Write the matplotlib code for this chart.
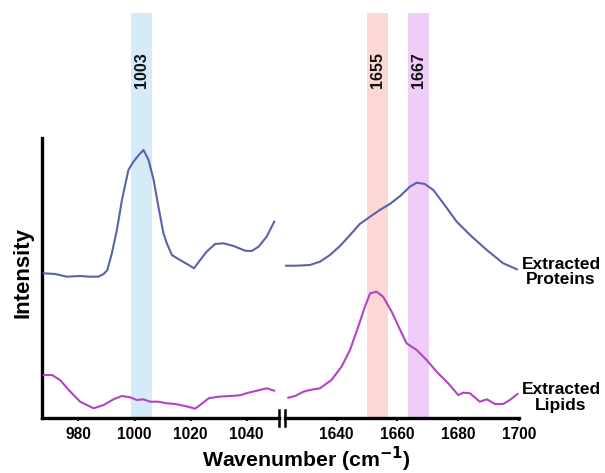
import numpy as np
import matplotlib
matplotlib.use("Agg")
import matplotlib.pyplot as plt

plt.rcParams['font.family'] = ['Liberation Sans', 'DejaVu Sans']

# left segment (phenylalanine region)
wn_prot_left = [967.6, 971.7, 975.9, 980.6, 984.1, 987.1, 989.0, 990.3, 991.9, 993.7,
                995.5, 997.8, 999.6, 1001.5, 1003.2, 1005.0, 1006.8, 1008.5, 1010.3, 1011.5,
                1013.3, 1016.2, 1018.7, 1021.2, 1023.4, 1025.7, 1028.7, 1031.7, 1035.3, 1039.4,
                1041.8, 1044.2, 1047.1, 1049.8]
int_prot_left = [143.7, 143.0, 140.3, 141.0, 140.3, 140.3, 143.0, 147.0, 163.7, 187.0,
                 217.0, 247.0, 255.3, 262.0, 267.0, 257.0, 237.0, 210.3, 183.7, 173.7,
                 162.0, 157.0, 153.0, 148.7, 157.0, 165.3, 173.0, 173.7, 171.0, 166.3,
                 166.0, 170.3, 180.3, 195.3]

wn_lip_left = [967.6, 970.6, 973.4, 977.1, 980.6, 985.4, 989.0, 992.5, 995.5, 998.5,
               1000.8, 1003.2, 1005.5, 1008.5, 1011.5, 1014.5, 1018.0, 1021.6, 1023.4, 1026.4,
               1029.9, 1034.1, 1037.6, 1040.6, 1043.6, 1047.1, 1049.8]
int_lip_left = [42.0, 42.0, 37.0, 25.3, 15.3, 8.7, 12.0, 17.7, 21.0, 19.7,
                17.0, 17.7, 15.3, 15.3, 13.7, 13.0, 11.0, 8.3, 12.0, 18.7,
                20.3, 21.0, 21.7, 24.3, 26.3, 28.7, 26.3]

# right segment (amide I region)
wn_prot_right = [1623.3, 1626.8, 1631.2, 1634.5, 1637.8, 1641.1, 1644.4, 1647.6, 1651.0, 1654.2,
                 1657.5, 1660.9, 1664.1, 1666.3, 1669.0, 1671.8, 1675.1, 1679.5, 1683.9, 1689.4,
                 1694.8, 1699.3]
int_prot_right = [151.3, 151.3, 152.0, 155.3, 162.0, 171.0, 182.0, 193.0, 200.3, 207.0,
                  213.0, 221.0, 230.3, 234.3, 233.0, 227.0, 213.7, 195.3, 182.0, 167.0,
                  153.7, 147.7]

wn_lip_right = [1624.1, 1626.3, 1629.1, 1631.2, 1634.5, 1638.3, 1641.6, 1644.4, 1647.1, 1649.3,
                1651.0, 1653.1, 1655.3, 1658.1, 1660.9, 1663.0, 1666.3, 1669.6, 1672.9, 1676.7,
                1680.0, 1681.7, 1683.9, 1687.1, 1689.4, 1692.1, 1694.8, 1697.0, 1699.5]
int_lip_right = [19.3, 21.0, 25.3, 27.0, 28.7, 37.0, 50.3, 67.0, 90.3, 110.3,
                 123.7, 125.3, 120.3, 105.3, 87.0, 73.7, 67.0, 57.0, 45.3, 33.7,
                 22.0, 24.3, 23.7, 15.3, 17.7, 13.0, 13.0, 17.0, 23.0]

band_labels = ['1003', '1655', '1667']
band_ranges = [(998.7, 1006.1), (1650.0, 1656.8), (1663.5, 1670.4)]
band_colors = ['#d5ebfa', '#fbd8d4', '#efcdf8']

left_ticks = [980, 1000, 1020, 1040]
right_ticks = [1640, 1660, 1680, 1700]

prot_color = '#5a62ac'
lip_color = '#b243c4'

W, H = 605, 473
fig = plt.figure(figsize=(W / 100, H / 100), dpi=100)
bot = (H - 418) / H
hgt = (418 - 13) / H
axL = fig.add_axes([42 / W, bot, (279 - 42) / W, hgt])
axR = fig.add_axes([285 / W, bot, (519 - 285) / W, hgt])

axL.set_xlim(967.0, 1051.5)
axR.set_xlim(1623.0, 1700)
for ax in (axL, axR):
    ax.set_ylim(-1, 404)
    ax.patch.set_alpha(0)
    ax.set_yticks([])
    for s in ['top', 'right', 'left']:
        ax.spines[s].set_visible(False)
    ax.spines['bottom'].set_linewidth(2.4)
    ax.tick_params(axis='x', direction='out', length=2.5, width=1.5, pad=4)

axL.spines['left'].set_visible(True)
axL.spines['left'].set_linewidth(2.4)
axL.spines['left'].set_bounds(-1, 279)

axL.set_xticks(left_ticks)
axR.set_xticks(right_ticks)
axL.set_xticklabels([str(t) for t in left_ticks], fontweight='bold', fontsize=11.2)
axR.set_xticklabels([str(t) for t in right_ticks], fontweight='bold', fontsize=11.2)

# bands
for lab, (a, b), c in zip(band_labels, band_ranges, band_colors):
    ax = axL if a < 1300 else axR
    ax.axvspan(a, b, ymin=0, ymax=1, color=c, lw=0, zorder=0)
    ax.text((a + b) / 2, 404 - 57, lab, rotation=90, ha='center', va='center',
            fontsize=11.5, fontweight='bold', color='#111111')

axL.plot(wn_prot_left, int_prot_left, color=prot_color, lw=1.5, zorder=3)
axL.plot(wn_lip_left, int_lip_left, color=lip_color, lw=1.5, zorder=3)
axR.plot(wn_prot_right, int_prot_right, color=prot_color, lw=1.5, zorder=3)
axR.plot(wn_lip_right, int_lip_right, color=lip_color, lw=1.5, zorder=3)

# axis break marks
dy = 8 / 405
axL.plot([1, 1], [-dy, dy], transform=axL.transAxes, color='black', lw=1.8, clip_on=False)
axR.plot([0, 0], [-dy, dy], transform=axR.transAxes, color='black', lw=1.8, clip_on=False)

fig.text(561 / W, 1 - 272 / H, 'Extracted\nProteins', ha='center', va='center',
         fontsize=12.5, fontweight='bold', linespacing=1.05)
fig.text(561 / W, 1 - 397.5 / H, 'Extracted\nLipids', ha='center', va='center',
         fontsize=12.5, fontweight='bold', linespacing=1.05)

fig.text(306 / W, 1 - 459 / H, 'Wavenumber (cm$^{\\mathbf{-1}}$)', ha='center', va='center',
         fontsize=15.3, fontweight='bold')
fig.text(23 / W, 1 - 272 / H, 'Intensity', ha='center', va='center', rotation=90,
         fontsize=16, fontweight='bold')

fig.savefig('out.png', dpi=100)
